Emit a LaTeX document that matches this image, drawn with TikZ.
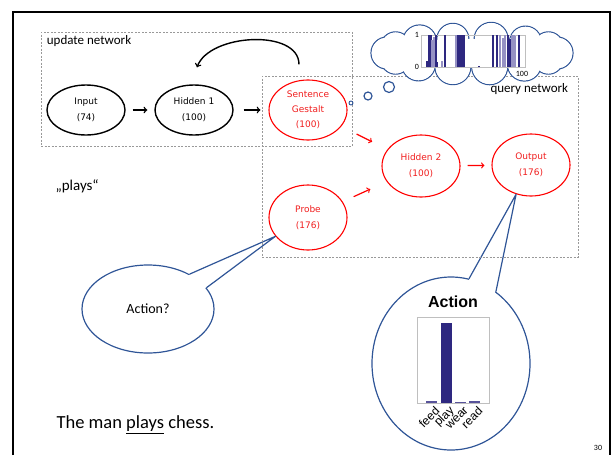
\documentclass[tikz,border=0pt]{standalone}
\usepackage{fontspec}
\setmainfont{Carlito}
\newfontfamily\neuronfont{DejaVu Sans}
\newfontfamily\chartfont{Liberation Sans}
\usetikzlibrary{shapes, arrows, positioning, calc}
\definecolor{bubbleblue}{RGB}{47,85,151}
\definecolor{barnavy}{RGB}{46,40,128}
\definecolor{barlight}{RGB}{150,146,196}
\definecolor{neuronred}{RGB}{240,30,30}
\tikzstyle{neuron} = [draw=black, line width=1.4pt, ellipse, minimum width=78pt, minimum height=50pt, inner sep=0pt, align=center, font=\neuronfont\fontsize{9}{16}\selectfont]
\tikzstyle{redneuron} = [neuron, draw=red, line width=1.1pt, text=neuronred, minimum height=62pt]
\tikzstyle{netbox} = [draw=gray!80, line width=0.6pt, dash pattern=on 2pt off 1.5pt, inner sep=0pt]
\tikzstyle{netlabel} = [font=\fontsize{13}{13}\selectfont, inner sep=2pt]
\tikzstyle{bubble} = [draw=bubbleblue, line width=1.2pt]
\tikzstyle{flow} = [->, line width=1.4pt]
\tikzstyle{redflow} = [->, draw=red, line width=1.2pt]

\begin{document}
\begin{tikzpicture}[x=1pt, y=-1pt]
	\useasboundingbox (0,0) rectangle (615,455);
	\draw[line width=2.5pt] (13,455) -- (13,12) -- (610,12) -- (610,455);
	\node[redneuron] (output) at (531,165) {Output\\(176)};
	\node[redneuron, minimum height=65pt] (probe) at (308,217.5) {Probe\\(176)};
	\node[bubble, ellipse, minimum width=132pt, minimum height=88pt, font=\fontsize{14}{14}\selectfont] (ask) at (148,309) {Action?};
	\fill[white] ($(ask.40)!2pt!(ask.center)$) -- (probe.210) -- ($(ask.20)!2pt!(ask.center)$) -- cycle;
	\draw[bubble, line join=round] (ask.40) -- (probe.210) -- (ask.20);
	\node[bubble, ellipse, minimum width=158pt, minimum height=173pt] (answer) at (451,363.5) {};
	\fill[white] ($(answer.78)!2pt!(answer.center)$) -- (output.243) -- ($(answer.58)!2pt!(answer.center)$) -- cycle;
	\draw[bubble, line join=round] (answer.78) -- (output.243) -- (answer.58);
	\node[netbox, minimum width=311pt, minimum height=114pt] (update) at (196.5,89) {};
	\node[netlabel, anchor=north west] at ([xshift=4pt, yshift=-2pt]update.north west) {update network};
	\node[netbox, minimum width=316pt, minimum height=181pt] (query) at (420,166.5) {};
	\node[netlabel, anchor=north east] at ([xshift=-8pt, yshift=-6pt]query.north east) {query network};
	\node[neuron] (input) at (86,110) {Input\\(74)};
	\node[neuron] (hidden1) at (194,110) {Hidden 1\\(100)};
	\node[redneuron, minimum height=60pt, font=\neuronfont\fontsize{9}{15}\selectfont] (gestalt) at (308,110) {Sentence\\Gestalt\\(100)};
	\node[redneuron] (hidden2) at (421,166) {Hidden 2\\(100)};
	\draw[flow, shorten <=7pt, shorten >=7pt] (input) -- (hidden1);
	\draw[flow, shorten <=10pt, shorten >=8pt] (hidden1) -- (gestalt);
	\draw[flow] ([xshift=-9pt, yshift=15pt]gestalt.north) to[out=90, in=70, looseness=0.9] ([xshift=3pt, yshift=17pt]hidden1.north);
	\draw[redflow, shorten <=17pt, shorten >=17pt] (gestalt) -- (hidden2);
	\draw[redflow, shorten <=12pt, shorten >=18pt] (probe) -- (hidden2);
	\draw[redflow, shorten <=7pt, shorten >=7pt] (hidden2) -- (output);
	\coordinate (thought) at (472,53);
	\foreach \a/\r in {0/16, 26/15, 52/17, 78/18, 103/18, 129/17, 154/15, 180/16, 206/15, 232/17, 257/16, 283/17, 309/16, 334/15}
		\draw[bubble] ($(thought)+(\a:85 and 14)$) circle (\r);
	\foreach \a/\r in {0/16, 26/15, 52/17, 78/18, 103/18, 129/17, 154/15, 180/16, 206/15, 232/17, 257/16, 283/17, 309/16, 334/15}
		\fill[white] ($(thought)+(\a:85 and 14)$) circle (\r-0.6);
	\fill[white] (thought) ellipse (85 and 14);
	\node[bubble, circle, minimum size=11pt, inner sep=0pt] (puff3) at (389,87) {};
	\node[bubble, circle, minimum size=8pt, inner sep=0pt] (puff2) at (368,96) {};
	\node[bubble, circle, minimum size=4pt, inner sep=0pt, line width=0.9pt] (puff1) at (351,103) {};
	\draw[gray!50, line width=0.5pt] (421,35) rectangle (525,67);
	\foreach \x/\h in {427/6, 429/32, 431/32, 433/10, 436/32, 437/5, 445/32, 458/32, 460/32, 462/32, 464/32, 479/1, 493/32, 497/32, 508/32, 510/28, 519/32}
		\draw[barnavy, line width=1.1pt] (\x,67) -- ++(0,-\h);
	\foreach \x/\h in {432/27, 434/30, 442/6, 456/32, 500/32, 503/29, 505/32, 512/32, 514/32, 515/31}
		\draw[barlight, line width=1.1pt] (\x,67) -- ++(0,-\h);
	\node[font=\fontsize{8}{8}\selectfont, anchor=east, inner sep=2pt] (ymax) at (421,35) {1};
	\node[font=\fontsize{8}{8}\selectfont, anchor=east, inner sep=2pt] (ymin) at (421,67) {0};
	\node[font=\fontsize{8}{8}\selectfont] (xmax) at (522,74) {100};
	\node[font=\chartfont\bfseries\fontsize{16}{16}\selectfont] (charttitle) at (453,302) {Action};
	\draw[gray!50, line width=0.5pt] (417,317) rectangle (489,403);
	\fill[barnavy] (441,403) rectangle (452,323);
	\fill[barnavy!80] (426,403) rectangle (437,401);
	\fill[barnavy!80] (455,403) rectangle (466,402);
	\fill[barnavy!80] (469,403) rectangle (480,401);
	\foreach \x/\w in {431.5/feed, 446.5/play, 460.5/wear, 474.5/read}
		\node[rotate=45, anchor=east, inner sep=0pt, font=\chartfont\fontsize{12}{12}\selectfont] at (\x+6,409) {\w};
	\node[font=\fontsize{15}{15}\selectfont, anchor=west] (word) at (52,186) {„plays“};
	\node[font=\fontsize{18.5}{18.5}\selectfont, anchor=west] (sentence) at (53,425) {The man \underline{plays} chess.};
	\node[font=\fontsize{8}{8}\selectfont] (page) at (598,448) {30};
\end{tikzpicture}
\end{document}
